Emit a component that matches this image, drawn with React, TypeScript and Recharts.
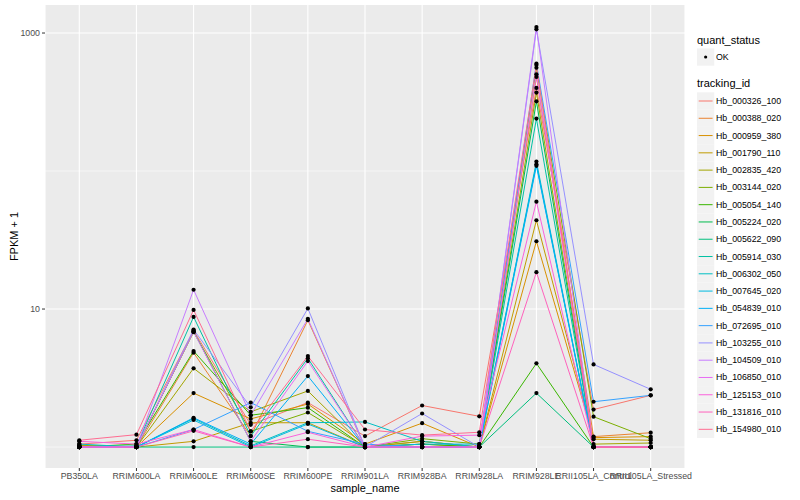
import { CartesianGrid, Label, Line, LineChart, ReferenceLine, XAxis, YAxis } from 'recharts';

const FONT = '"Liberation Sans", Arial, Helvetica, sans-serif';

const samples = [
  'PB350LA',
  'RRIM600LA',
  'RRIM600LE',
  'RRIM600SE',
  'RRIM600PE',
  'RRIM901LA',
  'RRIM928BA',
  'RRIM928LA',
  'RRIM928LE',
  'RRII105LA_Control',
  'RRII105LA_Stressed',
];

const trackingIds = [
  'Hb_000326_100',
  'Hb_000388_020',
  'Hb_000959_380',
  'Hb_001790_110',
  'Hb_002835_420',
  'Hb_003144_020',
  'Hb_005054_140',
  'Hb_005224_020',
  'Hb_005622_090',
  'Hb_005914_030',
  'Hb_006302_050',
  'Hb_007645_020',
  'Hb_054839_010',
  'Hb_072695_010',
  'Hb_103255_010',
  'Hb_104509_010',
  'Hb_106850_010',
  'Hb_125153_010',
  'Hb_131816_010',
  'Hb_154980_010',
];

// ggplot hue palette, 20 levels
const colors = [
  '#F8766D', '#EA8331', '#D89000', '#C09B00', '#A3A500',
  '#7CAE00', '#39B600', '#00BB4E', '#00BF7D', '#00C1A3',
  '#00BFC4', '#00BAE0', '#00B0F6', '#35A2FF', '#9590FF',
  '#C77CFF', '#E76BF3', '#FA62DB', '#FF62BC', '#FF6C91',
];

// FPKM + 1, one array per tracking id, in sample order
const hb000326 = [1.05, 1.12, 7.0, 1.45, 2.1, 1.2, 2.0, 1.67, 400, 1.87, 2.37];
const hb000388 = [1.0, 1.0, 4.83, 1.2, 8.3, 1.0, 1.1, 1.0, 480, 1.19, 1.27];
const hb000959 = [1.02, 1.0, 2.46, 1.6, 2.05, 1.05, 1.49, 1.0, 31, 1.17, 1.19];
const hb001790 = [1.0, 1.0, 1.1, 1.5, 1.5, 1.0, 1.05, 1.0, 44, 1.14, 1.12];
const hb002835 = [1.03, 1.0, 3.72, 1.8, 2.55, 1.0, 1.1, 1.0, 370, 1.05, 1.07];
const hb003144 = [1.0, 1.0, 6.8, 1.3, 1.78, 1.0, 1.15, 1.05, 560, 1.66, 1.15];
const hb005054 = [1.0, 1.05, 4.96, 1.7, 1.93, 1.0, 1.05, 1.0, 4.04, 1.0, 1.0];
const hb005224 = [1.0, 1.0, 6.9, 1.1, 1.0, 1.0, 1.0, 1.0, 320, 1.0, 1.0];
const hb005622 = [1.0, 1.0, 1.0, 1.0, 1.0, 1.0, 1.0, 1.0, 2.46, 1.0, 1.0];
const hb005914 = [1.0, 1.02, 8.77, 1.2, 4.4, 1.0, 1.0, 1.0, 240, 1.0, 1.0];
const hb006302 = [1.05, 1.0, 1.61, 1.02, 1.5, 1.52, 1.1, 1.0, 117, 1.0, 1.0];
const hb007645 = [1.0, 1.0, 1.57, 1.0, 1.47, 1.0, 1.05, 1.05, 112, 1.0, 1.0];
const hb054839 = [1.0, 1.0, 1.63, 1.05, 3.27, 1.0, 1.0, 1.0, 109, 1.0, 1.0];
const hb072695 = [1.0, 1.0, 1.34, 2.1, 1.3, 1.05, 1.0, 1.0, 600, 2.13, 2.37];
const hb103255 = [1.0, 1.0, 7.1, 1.94, 10.1, 1.0, 1.75, 1.0, 1064, 3.97, 2.62];
const hb104509 = [1.0, 1.0, 13.8, 1.7, 8.5, 1.0, 1.0, 1.0, 1105, 1.0, 1.0];
const hb106850 = [1.0, 1.0, 6.85, 1.1, 4.2, 1.0, 1.0, 1.0, 502, 1.0, 1.0];
const hb125153 = [1.1, 1.05, 1.34, 1.0, 1.28, 1.0, 1.2, 1.22, 60, 1.0, 1.0];
const hb131816 = [1.0, 1.0, 1.31, 1.0, 1.14, 1.0, 1.0, 1.0, 18.5, 1.0, 1.0];
const hb154980 = [1.12, 1.23, 9.85, 1.3, 4.56, 1.34, 1.22, 1.28, 587, 1.0, 1.0];

const seriesValues = [
  hb000326, hb000388, hb000959, hb001790, hb002835,
  hb003144, hb005054, hb005224, hb005622, hb005914,
  hb006302, hb007645, hb054839, hb072695, hb103255,
  hb104509, hb106850, hb125153, hb131816, hb154980,
];

const yTicks = [10, 1000];
const yMinor = [1, 100];

const data = samples.map((sample, i) => {
  const row: Record<string, string | number> = { sample };
  trackingIds.forEach((id, k) => {
    row[id] = seriesValues[k][i];
  });
  return row;
});

const axisText = { fontSize: 8.8, fill: '#4D4D4D', fontFamily: FONT };

function LegendPanel() {
  const boxX = 697;
  const step = 17.28;
  const firstY = 101;
  return (
    <svg
      width={110}
      height={460}
      style={{ position: 'absolute', left: 690, top: 0, overflow: 'visible' }}
      viewBox="690 0 110 460"
    >
      <text x={boxX} y={40} fontSize={11} fontFamily={FONT} fill="#000" dominantBaseline="central">
        quant_status
      </text>
      <rect x={boxX} y={48.4} width={step} height={step} fill="#F2F2F2" />
      <circle cx={boxX + step / 2} cy={57} r={1.6} fill="#000" />
      <text x={716} y={57} fontSize={8.8} fontFamily={FONT} fill="#000" dominantBaseline="central">
        OK
      </text>
      <text x={boxX} y={83} fontSize={11} fontFamily={FONT} fill="#000" dominantBaseline="central">
        tracking_id
      </text>
      {trackingIds.map((id, k) => {
        const cy = firstY + k * step;
        return (
          <g key={id}>
            <rect x={boxX} y={cy - step / 2} width={step} height={step} fill="#F2F2F2" />
            <line x1={boxX + 1.7} x2={boxX + step - 1.7} y1={cy} y2={cy} stroke={colors[k]} strokeWidth={1} />
            <text x={716} y={cy} fontSize={8.8} fontFamily={FONT} fill="#000" dominantBaseline="central">
              {id}
            </text>
          </g>
        );
      })}
    </svg>
  );
}

export default function App() {
  return (
    <div style={{ position: 'absolute', left: 0, top: 0, width: 800, height: 500, background: '#fff' }}>
      <LineChart width={800} height={500} data={data} margin={{ top: 5, right: 115, bottom: 0, left: 0 }}>
        <CartesianGrid horizontal={false} stroke="#FFFFFF" strokeWidth={1.07} fill="#EBEBEB" fillOpacity={1} />
        {yMinor.map((v) => (
          <ReferenceLine key={'m' + v} y={v} stroke="#FFFFFF" strokeWidth={0.55} />
        ))}
        {yTicks.map((v) => (
          <ReferenceLine key={'t' + v} y={v} stroke="#FFFFFF" strokeWidth={1.07} />
        ))}
        <XAxis
          dataKey="sample"
          interval={0}
          padding={{ left: 34.3, right: 34.3 }}
          height={32}
          tick={axisText}
          tickSize={3}
          tickMargin={2}
          tickLine={{ stroke: '#333333' }}
          axisLine={false}
        >
          <Label
            content={() => (
              <text x={365} y={488} textAnchor="middle" dominantBaseline="central" fontSize={11} fontFamily={FONT} fill="#000">
                sample_name
              </text>
            )}
          />
        </XAxis>
        <YAxis
          scale="log"
          domain={[0.705, 1596]}
          allowDataOverflow
          ticks={yTicks}
          width={45}
          tick={axisText}
          tickSize={3}
          tickMargin={2}
          tickLine={{ stroke: '#333333' }}
          axisLine={false}
        >
          <Label
            content={() => (
              <text
                x={14}
                y={236.5}
                transform="rotate(-90 14 236.5)"
                textAnchor="middle"
                dominantBaseline="central"
                fontSize={11}
                fontFamily={FONT}
                fill="#000"
              >
                FPKM + 1
              </text>
            )}
          />
        </YAxis>
        {trackingIds.map((id, k) => (
          <Line
            key={id}
            dataKey={id}
            type="linear"
            stroke={colors[k]}
            strokeWidth={1}
            dot={false}
            activeDot={false}
            isAnimationActive={false}
          />
        ))}
        {trackingIds.map((id) => (
          <Line
            key={'pts' + id}
            dataKey={id}
            type="linear"
            stroke="none"
            legendType="none"
            dot={{ r: 2.1, fill: '#000000', stroke: 'none' }}
            activeDot={false}
            isAnimationActive={false}
          />
        ))}
      </LineChart>
      <LegendPanel />
    </div>
  );
}
